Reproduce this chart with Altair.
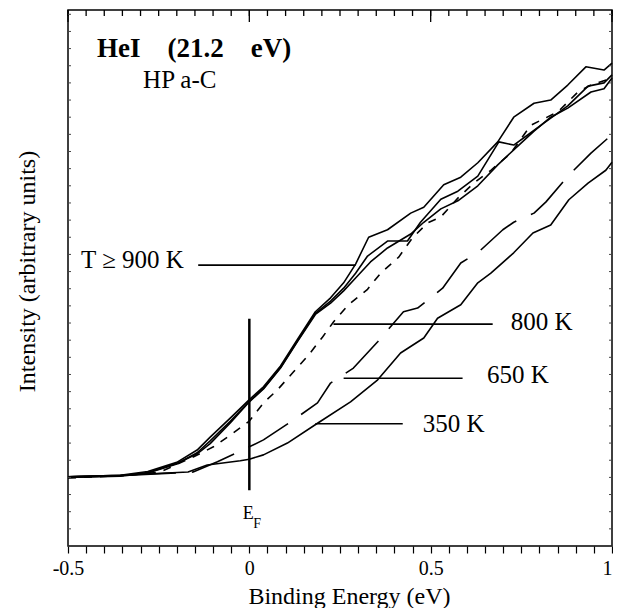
import altair as alt
import pandas as pd

FONT = "Liberation Serif, Times New Roman, serif"

# ---------------- series (Binding energy in eV, intensity in arbitrary units) ----------------
x_900a = [-0.5, -0.356, -0.28, -0.2, -0.144, -0.108, -0.052, 0.0, 0.039, 0.086, 0.133, 0.182,
          0.224, 0.260, 0.293, 0.329, 0.381, 0.445, 0.481, 0.536, 0.583, 0.630, 0.685, 0.729,
          0.785, 0.831, 0.878, 0.928, 0.978, 1.0]
y_900a = [12.9, 13.2, 13.9, 15.6, 17.9, 20.3, 23.9, 27.3, 29.7, 33.6, 38.6, 43.7,
          46.3, 49.1, 52.6, 57.6, 59.0, 62.1, 63.2, 67.4, 68.8, 71.5, 75.4, 80.0,
          82.6, 83.2, 86.0, 89.4, 88.8, 90.1]

x_900b = [-0.5, -0.356, -0.28, -0.2, -0.144, -0.108, -0.052, 0.0, 0.039, 0.086, 0.133, 0.182,
          0.224, 0.260, 0.293, 0.326, 0.381, 0.436, 0.472, 0.528, 0.575, 0.630, 0.688, 0.729,
          0.776, 0.812, 0.878, 0.934, 0.978, 1.0]
y_900b = [12.8, 13.0, 13.6, 15.3, 17.4, 19.6, 23.3, 27.0, 29.4, 33.3, 38.3, 43.4,
          45.7, 48.1, 50.9, 54.1, 56.9, 56.9, 60.4, 64.7, 66.2, 69.0, 75.4, 74.8,
          77.1, 78.9, 82.1, 85.8, 86.4, 87.9]

x_900c = [-0.5, -0.356, -0.28, -0.2, -0.144, -0.108, -0.052, 0.0, 0.039, 0.086, 0.133, 0.182,
          0.224, 0.260, 0.293, 0.334, 0.381, 0.445, 0.481, 0.528, 0.575, 0.630, 0.685, 0.729,
          0.785, 0.831, 0.878, 0.942, 0.978, 1.0]
y_900c = [12.9, 13.1, 13.7, 15.4, 17.2, 19.1, 23.0, 26.9, 29.3, 33.2, 38.2, 43.2,
          45.3, 47.6, 50.0, 53.0, 55.6, 58.2, 60.4, 62.9, 64.4, 67.2, 71.1, 73.9,
          77.4, 80.0, 81.7, 84.7, 85.3, 87.3]

x_800 = [-0.5, -0.356, -0.246, -0.155, -0.099, -0.044, 0.0, 0.039, 0.077, 0.122, 0.163, 0.202,
         0.232, 0.273, 0.326, 0.362, 0.412, 0.450, 0.492, 0.528, 0.575, 0.619, 0.666, 0.721,
         0.776, 0.851, 0.906, 0.942, 1.0]
y_800 = [12.7, 13.1, 13.8, 16.6, 18.5, 21.1, 23.3, 26.7, 29.1, 32.5, 35.6, 39.0,
         41.8, 45.0, 47.9, 50.9, 53.9, 57.5, 60.3, 61.4, 64.9, 67.7, 70.1, 73.3,
         78.5, 81.0, 84.7, 86.0, 87.3]

x_650 = [-0.5, -0.356, -0.155, -0.088, 0.0, 0.039, 0.113, 0.188, 0.224, 0.287, 0.354, 0.425,
         0.464, 0.533, 0.583, 0.633, 0.699, 0.729, 0.785, 0.818, 0.881, 0.942, 0.989, 1.0]
y_650 = [12.9, 13.1, 13.8, 15.7, 18.5, 19.8, 23.1, 26.7, 30.4, 33.2, 38.1, 43.7,
         44.4, 48.1, 52.8, 54.9, 59.0, 60.4, 62.1, 64.2, 69.2, 73.3, 76.1, 76.7]

x_350 = [-0.5, -0.356, -0.169, -0.116, -0.025, 0.0, 0.039, 0.105, 0.188, 0.279, 0.354, 0.417,
         0.481, 0.519, 0.583, 0.630, 0.666, 0.729, 0.782, 0.831, 0.881, 0.934, 0.983, 1.0]
y_350 = [12.9, 13.2, 13.8, 15.1, 15.9, 16.2, 17.0, 19.2, 22.9, 26.9, 31.0, 36.0,
         38.8, 42.5, 45.0, 49.1, 50.9, 54.7, 58.4, 59.9, 64.6, 67.7, 70.1, 71.6]

# ---------------- annotations ----------------
label_text = ["T \u2265 900 K", "800 K", "650 K", "350 K"]
label_x = [-0.464, 0.721, 0.655, 0.478]
label_y = [51.9, 40.3, 30.4, 21.3]

pointer_x = [-0.141, 0.232, 0.260, 0.182]
pointer_x2 = [0.293, 0.671, 0.588, 0.423]
pointer_y = [52.4, 41.4, 31.3, 22.8]

NB = "\u00a0"
title_text = ["HeI" + NB * 4 + "(21.2" + NB * 4 + "eV)"]
title_x = [-0.420]
title_y = [91.2]

sub_text = ["HP a-C"]
sub_x = [-0.293]
sub_y = [85.4]

ef_x = [0.0]
ef_y1 = [10.4]
ef_y2 = [42.4]

x_major = [-0.5, 0.0, 0.5, 1.0]
x_minor = [round(-0.5 + 0.05 * i, 2) for i in range(31)]
y_ticks = [round(3.2 * i, 1) for i in range(32)]

# ---------------- build ----------------
def frame(xs, ys):
    return pd.DataFrame({"x": xs, "y": ys, "order": list(range(len(xs)))})

X_DOM = [-0.5, 1.0]
Y_DOM = [0, 100]
XS = alt.Scale(domain=X_DOM, nice=False, zero=False)
YS = alt.Scale(domain=Y_DOM, nice=False, zero=False)

H = 536
W = 544
PX_Y = (Y_DOM[1] - Y_DOM[0]) / H
PX_X = (X_DOM[1] - X_DOM[0]) / W

is_major = "abs(datum.value*2 - round(datum.value*2)) < 0.001"

# bottom axis: every 0.05 tick kept (large tickCount stops Vega thinning them),
# labels only on the 0.5 steps
ax_labels = alt.Axis(orient="bottom", values=x_minor, tickCount=200, ticks=True, tickSize=7,
                     tickColor="black", tickWidth=1.2, domain=False,
                     grid=False, format="~g",
                     labelExpr="(" + is_major + ") ? replace(datum.label, '\u2212', '-') : ''",
                     labelAlign={"condition": {"test": "datum.value >= 1", "value": "right"},
                                 "value": "center"},
                     labelFont=FONT, labelFontSize=20, labelColor="black", labelPadding=5,
                     labelFlush=False, labelOverlap=False,
                     title="Binding Energy (eV)", titleFont=FONT, titleFontSize=24,
                     titleFontWeight="normal", titleColor="black", titleX=281, titleY=57,
                     titleBaseline="alphabetic", titleAlign="center")

ay_title = alt.Axis(orient="left", ticks=False, labels=False, domain=False, grid=False,
                    title="Intensity (arbitrary units)", titleFont=FONT, titleFontSize=24,
                    titleFontWeight="normal", titleColor="black", titleX=-41, titleY=261,
                    titleAngle=270, titleAlign="center", titleBaseline="middle")


def X(field, axis=None):
    if axis is None:
        return alt.X(field, scale=XS)
    return alt.X(field, scale=XS, axis=axis)


def Y(field, axis=None):
    if axis is None:
        return alt.Y(field, scale=YS)
    return alt.Y(field, scale=YS, axis=axis)


def line(df, xaxis=None, yaxis=None, dash=None, width=1.6):
    kw = dict(color="black", strokeWidth=width, strokeCap="butt", strokeJoin="round")
    if dash:
        kw["strokeDash"] = dash
    return alt.Chart(df).mark_line(**kw).encode(
        x=X("x:Q", xaxis), y=Y("y:Q", yaxis), order=alt.Order("order:Q"))


l350 = line(frame(x_350, y_350), ax_labels, ay_title)
l650 = line(frame(x_650, y_650), dash=[46, 16])
l800 = line(frame(x_800, y_800), dash=[8, 8])
l900a = line(frame(x_900a, y_900a))
l900b = line(frame(x_900b, y_900b))
l900c = line(frame(x_900c, y_900c))


# inward tick marks on the top edge and the side edges, placed through the scales
def xticks(values, y_edge, length_px, width=1.3):
    sign = 1 if y_edge == Y_DOM[0] else -1
    df = pd.DataFrame({"x": values, "y": [y_edge] * len(values),
                       "y2": [y_edge + sign * length_px * PX_Y] * len(values)})
    return alt.Chart(df).mark_rule(color="black", strokeWidth=width).encode(
        x=X("x:Q"), y=Y("y:Q"), y2="y2:Q")


def yticks(values, x_edge, length_px):
    sign = 1 if x_edge == X_DOM[0] else -1
    df = pd.DataFrame({"y": values, "x": [x_edge] * len(values),
                       "x2": [x_edge + sign * length_px * PX_X] * len(values)})
    return alt.Chart(df).mark_rule(color="#444444", strokeWidth=1).encode(
        y=Y("y:Q"), x=X("x:Q"), x2="x2:Q")


tick_layers = [
    xticks(x_minor, Y_DOM[1], 6),
    xticks(x_major, Y_DOM[1], 12),
    yticks(y_ticks, X_DOM[0], 3),
    yticks(y_ticks, X_DOM[1], 3),
]

pointers = alt.Chart(pd.DataFrame({"x": pointer_x, "x2": pointer_x2, "y": pointer_y})).mark_rule(
    color="black", strokeWidth=1.6).encode(x=X("x:Q"), x2="x2:Q", y=Y("y:Q"))

ef_rule = alt.Chart(pd.DataFrame({"x": ef_x, "y": ef_y1, "y2": ef_y2})).mark_rule(
    color="black", strokeWidth=2.5).encode(x=X("x:Q"), y=Y("y:Q"), y2="y2:Q")


def text_layer(xs, ys, texts, size, weight="normal"):
    return alt.Chart(pd.DataFrame({"x": xs, "y": ys, "t": texts})).mark_text(
        align="left", baseline="alphabetic", font=FONT, fontSize=size, fontWeight=weight,
        color="black").encode(x=X("x:Q"), y=Y("y:Q"), text="t:N")


labels = text_layer(label_x, label_y, label_text, 25)
title = text_layer(title_x, title_y, title_text, 27, "bold")
subtitle = text_layer(sub_x, sub_y, sub_text, 25)
ef_e = text_layer([-0.018], [5.0], ["E"], 18)
ef_f = text_layer([0.011], [3.3], ["F"], 14)

chart = alt.layer(
    l350, l650, l800, l900a, l900b, l900c, *tick_layers, pointers, ef_rule,
    labels, title, subtitle, ef_e, ef_f
).properties(
    width=W, height=H,
    padding={"left": 60, "top": 2, "right": 1, "bottom": 62},
    autosize=alt.AutoSizeParams(type="none"),
    background="white",
).configure_view(stroke="black", strokeWidth=1.5)

chart.save("out.html", embed_options={"renderer": "svg", "actions": False})
